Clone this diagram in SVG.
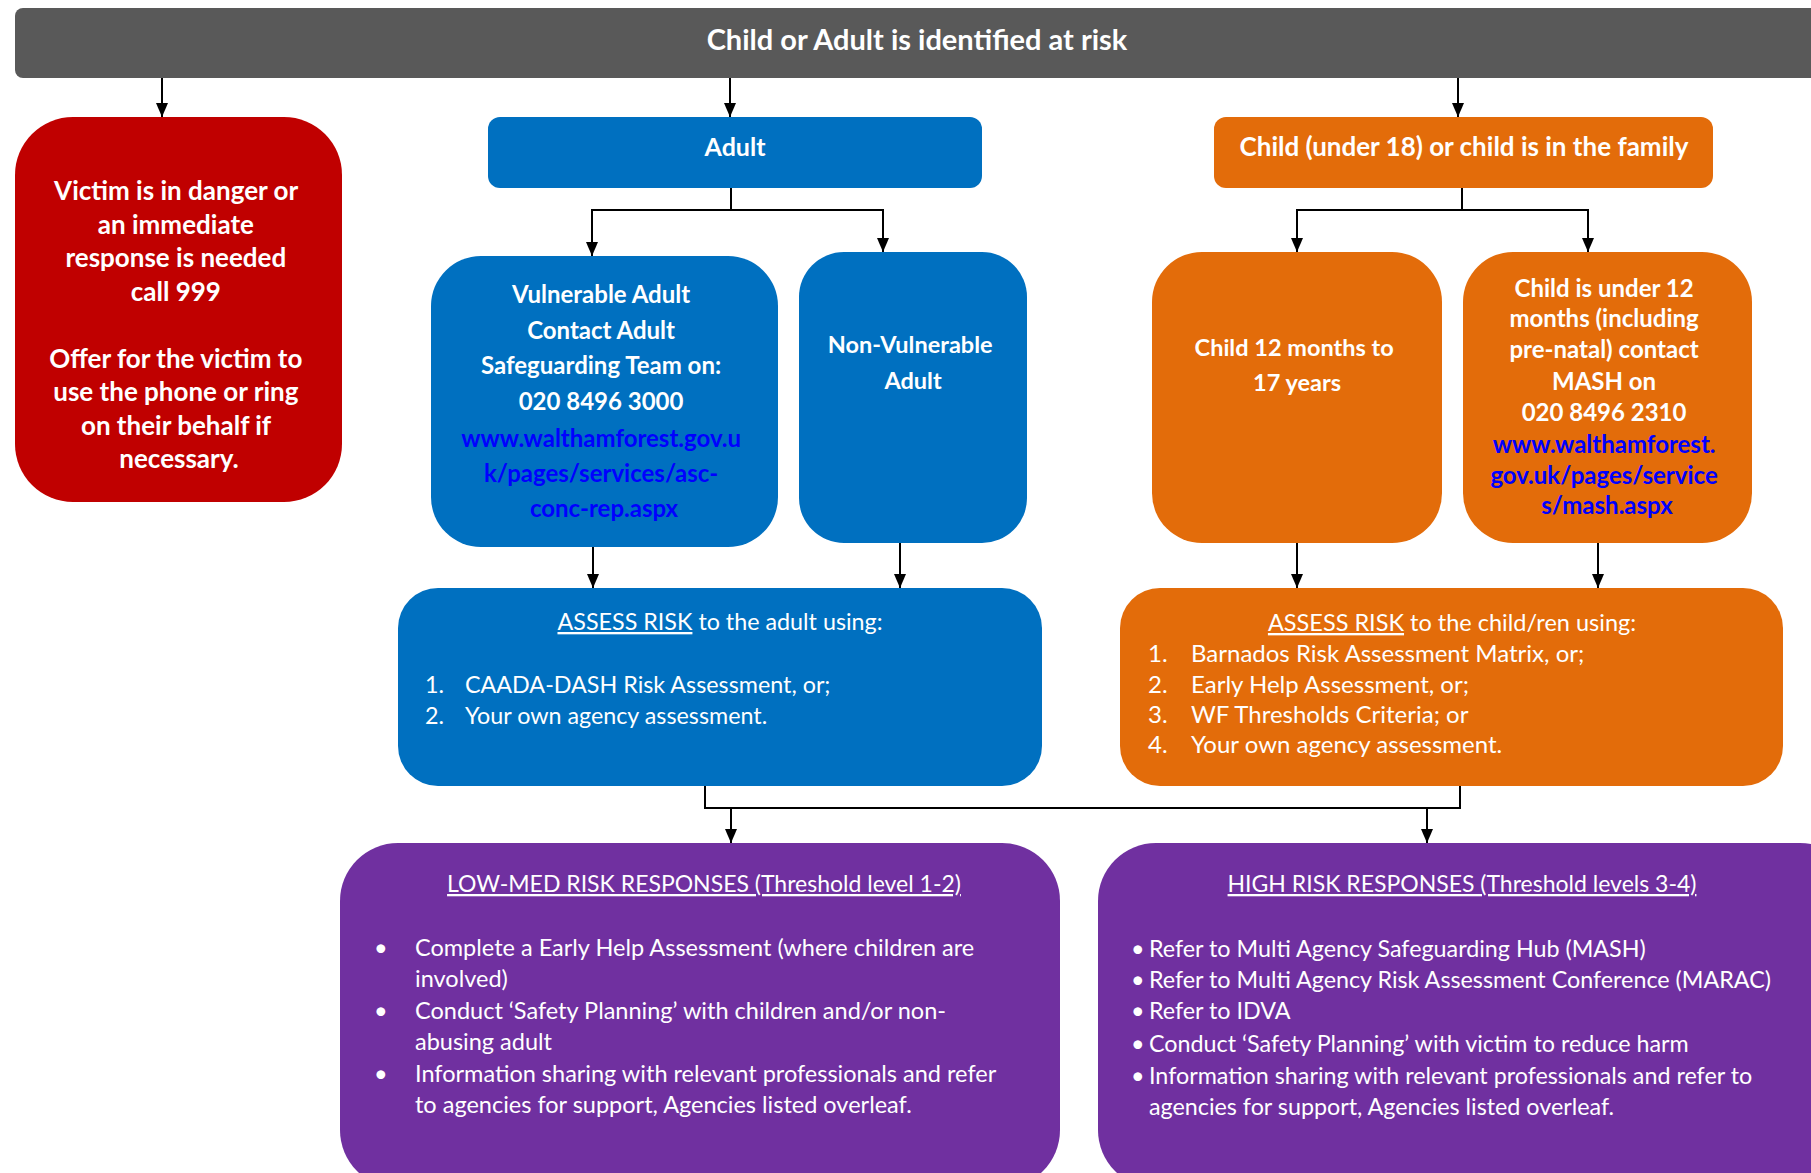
<svg xmlns="http://www.w3.org/2000/svg" width="1811" height="1173" viewBox="0 0 1811 1173">
<style>
  text { font-family: Lato, "Open Sans", "Liberation Sans", sans-serif; fill: #ffffff; }
  .c { text-anchor: middle; }
  .b { font-weight: bold; }
  .t { font-size: 24px; }
  .l { font-size: 23.5px; }
  .h { font-size: 23px; }
  .link { fill: #0000ff; }
  .u { text-decoration: underline; }
  .conn { fill: none; stroke: #000000; stroke-width: 2; }
</style>
<defs>
  <marker id="ah" markerUnits="userSpaceOnUse" markerWidth="14" markerHeight="12" refX="14" refY="6" orient="auto" viewBox="0 0 14 12">
    <path d="M0,0 L14,6 L0,12 z" fill="#000000"/>
  </marker>
</defs>
<rect width="1811" height="1173" fill="#ffffff"/>

<g id="top">
  <rect x="15" y="8" width="1820" height="70" rx="8" fill="#595959"/>
  <text class="c b" style="font-size:29px" x="917" y="50">Child or Adult is identified at risk</text>
</g>

<g id="danger">
  <rect x="15" y="117" width="327" height="385" rx="58" fill="#c00000"/>
  <text class="c b" style="font-size:26px">
    <tspan x="179" y="200">Victim is in danger or</tspan>
    <tspan x="179" y="233.5">an immediate</tspan>
    <tspan x="179" y="267">response is needed</tspan>
    <tspan x="179" y="300.5">call 999</tspan>
    <tspan x="179" y="367.5">Offer for the victim to</tspan>
    <tspan x="179" y="401">use the phone or ring</tspan>
    <tspan x="179" y="434.5">on their behalf if</tspan>
    <tspan x="179" y="468">necessary.</tspan>
  </text>
</g>

<g id="adult">
  <rect x="488" y="117" width="494" height="71" rx="12" fill="#0070c0"/>
  <text class="c b" style="font-size:25px" x="735" y="156">Adult</text>
</g>

<g id="child">
  <rect x="1214" y="117" width="499" height="71" rx="12" fill="#e36c0a"/>
  <text class="c b" style="font-size:26px" x="1464" y="156">Child (under 18) or child is in the family</text>
</g>

<g id="vulnerable">
  <rect x="431" y="256" width="347" height="291" rx="50" fill="#0070c0"/>
  <text class="c b t">
    <tspan x="604" y="303">Vulnerable Adult</tspan>
    <tspan x="604" y="338.5">Contact Adult</tspan>
    <tspan x="604" y="374">Safeguarding Team on:</tspan>
    <tspan x="604" y="410">020 8496 3000</tspan>
    <tspan class="link" x="604" y="447">www.walthamforest.gov.u</tspan>
    <tspan class="link" x="604" y="482">k/pages/services/asc-</tspan>
    <tspan class="link" x="604" y="517">conc-rep.aspx</tspan>
  </text>
</g>

<g id="nonvulnerable">
  <rect x="799" y="252" width="228" height="291" rx="45" fill="#0070c0"/>
  <text class="c b" style="font-size:23.5px">
    <tspan x="913" y="353">Non-Vulnerable</tspan>
    <tspan x="913" y="389">Adult</tspan>
  </text>
</g>

<g id="child12">
  <rect x="1152" y="252" width="290" height="291" rx="50" fill="#e36c0a"/>
  <text class="c b" style="font-size:23.5px">
    <tspan x="1297" y="356">Child 12 months to</tspan>
    <tspan x="1297" y="391">17 years</tspan>
  </text>
</g>

<g id="mash">
  <rect x="1463" y="252" width="289" height="291" rx="50" fill="#e36c0a"/>
  <text class="c b t">
    <tspan x="1607" y="297">Child is under 12</tspan>
    <tspan x="1607" y="327">months (including</tspan>
    <tspan x="1607" y="358">pre-natal) contact</tspan>
    <tspan x="1607" y="390">MASH on</tspan>
    <tspan x="1607" y="421">020 8496 2310</tspan>
    <tspan class="link" x="1607" y="453">www.walthamforest.</tspan>
    <tspan class="link" x="1607" y="484">gov.uk/pages/service</tspan>
    <tspan class="link" x="1607" y="514">s/mash.aspx</tspan>
  </text>
</g>

<g id="assess-adult">
  <rect x="398" y="588" width="644" height="198" rx="40" fill="#0070c0"/>
  <text class="c l" style="font-size:23.3px" x="720" y="630"><tspan class="u">ASSESS RISK</tspan> to the adult using:</text>
  <text style="font-size:23.3px"><tspan x="425" y="693">1.</tspan><tspan x="465" y="693">CAADA-DASH Risk Assessment, or;</tspan></text>
  <text style="font-size:23.3px"><tspan x="425" y="724">2.</tspan><tspan x="465" y="724">Your own agency assessment.</tspan></text>
</g>

<g id="assess-child">
  <rect x="1120" y="588" width="663" height="198" rx="40" fill="#e36c0a"/>
  <text class="c" style="font-size:23.5px" x="1452" y="631"><tspan class="u">ASSESS RISK</tspan> to the child/ren using:</text>
  <text style="font-size:24px"><tspan x="1148" y="662">1.</tspan><tspan x="1191" y="662">Barnados Risk Assessment Matrix, or;</tspan></text>
  <text style="font-size:24px"><tspan x="1148" y="693">2.</tspan><tspan x="1191" y="693">Early Help Assessment, or;</tspan></text>
  <text style="font-size:24px"><tspan x="1148" y="723">3.</tspan><tspan x="1191" y="723">WF Thresholds Criteria; or</tspan></text>
  <text style="font-size:24px"><tspan x="1148" y="753">4.</tspan><tspan x="1191" y="753">Your own agency assessment.</tspan></text>
</g>

<g id="lowmed">
  <rect x="340" y="843" width="720" height="345" rx="58" fill="#7030a0"/>
  <text class="c h u" x="704" y="892">LOW-MED RISK RESPONSES (Threshold level 1-2)</text>
  <text class="l"><tspan x="374" y="956">•</tspan><tspan x="415" y="956">Complete a Early Help Assessment (where children are</tspan></text>
  <text class="l" x="415" y="987">involved)</text>
  <text class="l"><tspan x="374" y="1019">•</tspan><tspan x="415" y="1019">Conduct ‘Safety Planning’ with children and/or non-</tspan></text>
  <text class="l" x="415" y="1050">abusing adult</text>
  <text class="l"><tspan x="374" y="1082">•</tspan><tspan x="415" y="1082">Information sharing with relevant professionals and refer</tspan></text>
  <text class="l" x="415" y="1113">to agencies for support, Agencies listed overleaf.</text>
</g>

<g id="high">
  <rect x="1098" y="843" width="760" height="345" rx="58" fill="#7030a0"/>
  <text class="c h u" x="1462" y="892">HIGH RISK RESPONSES (Threshold levels 3-4)</text>
  <g style="font-size:23.3px">
    <text><tspan x="1131" y="957">•</tspan><tspan x="1149" y="957">Refer to Multi Agency Safeguarding Hub (MASH)</tspan></text>
    <text><tspan x="1131" y="988">•</tspan><tspan x="1149" y="988">Refer to Multi Agency Risk Assessment Conference (MARAC)</tspan></text>
    <text><tspan x="1131" y="1019">•</tspan><tspan x="1149" y="1019">Refer to IDVA</tspan></text>
    <text><tspan x="1131" y="1052">•</tspan><tspan x="1149" y="1052">Conduct ‘Safety Planning’ with victim to reduce harm</tspan></text>
    <text><tspan x="1131" y="1084">•</tspan><tspan x="1149" y="1084">Information sharing with relevant professionals and refer to</tspan></text>
    <text x="1149" y="1115">agencies for support, Agencies listed overleaf.</text>
  </g>
</g>

<g id="connectors">
  <path class="conn" d="M162,78 V117" marker-end="url(#ah)"/>
  <path class="conn" d="M730,78 V117" marker-end="url(#ah)"/>
  <path class="conn" d="M1458,78 V117" marker-end="url(#ah)"/>
  <path class="conn" d="M731,188 V210 H592 V256" marker-end="url(#ah)"/>
  <path class="conn" d="M731,210 H883 V252" marker-end="url(#ah)"/>
  <path class="conn" d="M1462,188 V210 H1297 V252" marker-end="url(#ah)"/>
  <path class="conn" d="M1462,210 H1588 V252" marker-end="url(#ah)"/>
  <path class="conn" d="M593,547 V588" marker-end="url(#ah)"/>
  <path class="conn" d="M900,543 V588" marker-end="url(#ah)"/>
  <path class="conn" d="M1297,543 V588" marker-end="url(#ah)"/>
  <path class="conn" d="M1598,543 V588" marker-end="url(#ah)"/>
  <path class="conn" d="M705,786 V808 H1460 V786"/>
  <path class="conn" d="M731,808 V843" marker-end="url(#ah)"/>
  <path class="conn" d="M1427,808 V843" marker-end="url(#ah)"/>
</g>
</svg>
